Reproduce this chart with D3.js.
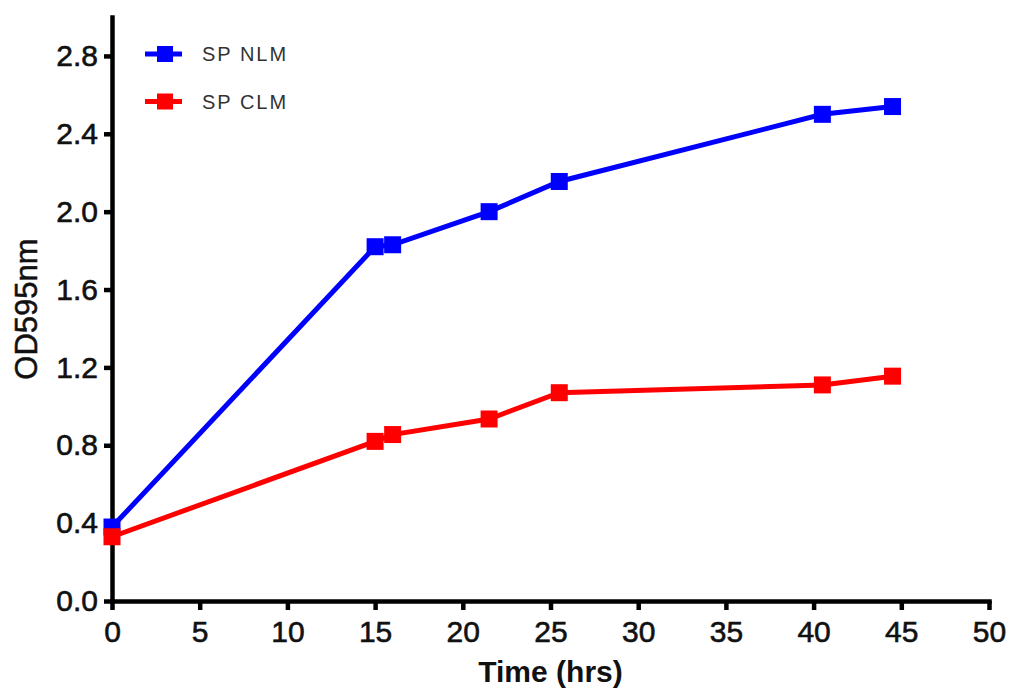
<!DOCTYPE html>
<html>
<head>
<meta charset="utf-8">
<script src="https://cdn.jsdelivr.net/npm/d3@7"></script>
<style>
  body { margin: 0; background: #fff; }
  svg { display: block; }
  .axis text { font-family: "Liberation Sans", Arial, sans-serif; font-size: 30px; fill: #111; stroke: #111; stroke-width: 0.6px; }
  .axis path, .axis line { stroke: #000; stroke-width: 4.5px; }
</style>
</head>
<body>
<svg id="chart"></svg>
<script>
// time points (hrs) and OD595 readings
const hours = [0, 15, 16, 21.5, 25.5, 40.5, 44.5];
const spNLM = [0.38, 1.82, 1.83, 2.0, 2.155, 2.50, 2.54];
const spCLM = [0.33, 0.82, 0.855, 0.935, 1.07, 1.11, 1.155];
const seriesNames = ['SP NLM', 'SP CLM'];
const seriesColors = ['#0000ff', '#ff0000'];
const xTicks = [0, 5, 10, 15, 20, 25, 30, 35, 40, 45, 50];
const yTicks = [0, 0.4, 0.8, 1.2, 1.6, 2.0, 2.4, 2.8];

const width = 1010, height = 690;
const margin = { top: 17, right: 21, bottom: 89, left: 112 };

const svg = d3.select('#chart')
    .attr('width', width)
    .attr('height', height);

const innerW = width - margin.left - margin.right;
const innerH = height - margin.top - margin.bottom;

const chart = svg.append('g')
    .attr('transform', `translate(${margin.left}, ${margin.top})`);

const x = d3.scaleLinear().domain([0, 50]).range([0, innerW]);
const y = d3.scaleLinear().domain([0, 3.0]).range([innerH, 0]);

// axes
chart.append('g')
    .attr('class', 'axis x-axis')
    .attr('transform', `translate(0, ${innerH})`)
    .call(d3.axisBottom(x).tickValues(xTicks).tickFormat(d3.format('d')).tickSize(9).tickSizeOuter(0).tickPadding(11));

chart.append('g')
    .attr('class', 'axis y-axis')
    .call(d3.axisLeft(y).tickValues(yTicks).tickFormat(d3.format('.1f')).tickSize(8).tickSizeOuter(0).tickPadding(6));

chart.selectAll('.axis path').attr('stroke-linecap', 'square');

// axis titles
svg.append('text')
    .attr('x', margin.left + innerW / 2)
    .attr('y', 682)
    .attr('text-anchor', 'middle')
    .style('font-family', '"Liberation Sans", Arial, sans-serif')
    .style('font-size', '30px')
    .style('font-weight', 'bold')
    .attr('fill', '#111')
    .text('Time (hrs)');

svg.append('text')
    .attr('transform', `translate(37, ${margin.top + innerH / 2}) rotate(-90)`)
    .attr('text-anchor', 'middle')
    .style('font-family', '"Liberation Sans", Arial, sans-serif')
    .style('font-size', '31px')
    .attr('fill', '#111')
    .attr('stroke', '#111')
    .attr('stroke-width', 0.5)
    .text('OD595nm');

// series
const allSeries = [spNLM, spCLM];
const line = d3.line()
    .x((d, i) => x(hours[i]))
    .y(d => y(d));

const ms = 17; // marker size

allSeries.forEach((vals, k) => {
    chart.append('path')
        .datum(vals)
        .attr('fill', 'none')
        .attr('stroke', seriesColors[k])
        .attr('stroke-width', 5)
        .attr('d', line);

    chart.selectAll(`.m${k}`)
        .data(vals)
        .join('rect')
            .attr('class', `m${k}`)
            .attr('x', (d, i) => x(hours[i]) - ms / 2)
            .attr('y', d => y(d) - ms / 2)
            .attr('width', ms)
            .attr('height', ms)
            .attr('fill', seriesColors[k]);
});

// legend
const legend = svg.append('g');
seriesNames.forEach((name, k) => {
    const cy = 54 + k * 47.5;
    legend.append('line')
        .attr('x1', 145).attr('x2', 182)
        .attr('y1', cy).attr('y2', cy)
        .attr('stroke', seriesColors[k])
        .attr('stroke-width', 5);
    legend.append('rect')
        .attr('x', 157).attr('y', cy - 8)
        .attr('width', 16).attr('height', 16)
        .attr('fill', seriesColors[k]);
    legend.append('text')
        .attr('x', 202)
        .attr('y', cy + 7)
        .style('font-family', '"Liberation Sans", Arial, sans-serif')
        .style('font-size', '20px')
        .style('letter-spacing', '2px')
        .attr('fill', '#333')
        .text(name);
});
</script>
</body>
</html>
